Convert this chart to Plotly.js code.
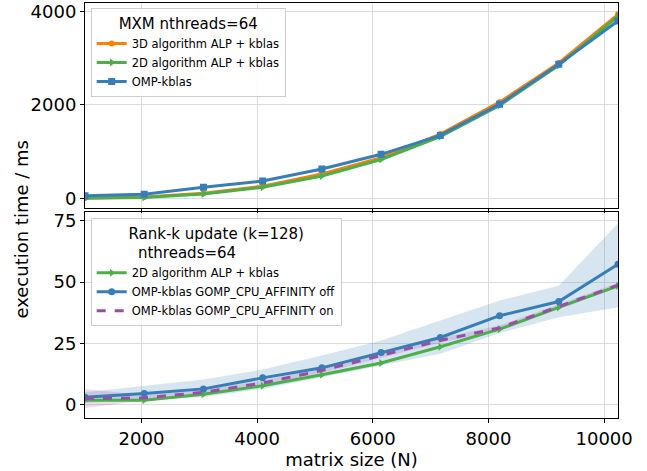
<!DOCTYPE html>
<html>
<head>
<meta charset="utf-8">
<script src="https://cdn.plot.ly/plotly-3.0.1.min.js"></script>
<style>html,body{margin:0;padding:0;background:#fff;}#chart{width:647px;height:471px;}</style>
</head>
<body>
<div id="chart"></div>
<script>
// matrix sizes
const sizes = [1024, 2048, 3072, 4096, 5120, 6144, 7168, 8192, 9216, 10240];
const xTickVals = [2000, 4000, 6000, 8000, 10000];
const xTickText = ['2000', '4000', '6000', '8000', '10000'];

// MXM (top panel), ms
const mxm3D = [8, 25, 105, 260, 520, 865, 1373, 2056, 2896, 3935];
const mxm2D = [2, 18, 90, 235, 478, 830, 1316, 1985, 2846, 3893];
const mxmOMP = [55, 85, 235, 370, 625, 940, 1345, 2013, 2868, 3793];

// Rank-k update (bottom panel), ms
const rk2D = [1.8, 1.8, 4.2, 7.7, 12.2, 17.0, 23.6, 30.8, 39.7, 48.5];
const rkOff = [3.0, 4.5, 6.4, 10.9, 15.0, 21.3, 27.4, 36.3, 42.1, 57.3];
const rkOffLo = [0.7, 2.0, 3.1, 6.4, 11.3, 15.9, 20.8, 29.2, 35.7, 39.8];
const rkOffHi = [5.0, 7.7, 10.2, 14.3, 20.0, 26.2, 34.2, 42.5, 48.5, 74.1];
const rkOn = [2.4, 2.7, 5.0, 8.8, 13.9, 20.0, 26.2, 31.3, 40.1, 48.8];
const rkOnLo = [-1.4, 1.6, 4.0, 7.8, 12.9, 19.0, 25.2, 30.3, 39.1, 47.8];
const rkOnHi = [6.4, 3.8, 6.0, 9.8, 14.9, 21.0, 27.2, 32.3, 41.1, 49.8];

const cOrange = '#ff7f00', cGreen = '#4daf4a', cBlue = '#377eb8', cPurple = '#984ea3';
const LW = 3;

const traces = [
  // top panel
  {x: sizes, y: mxm3D, xaxis: 'x2', yaxis: 'y2', mode: 'lines+markers', name: '3D algorithm ALP + kblas',
   line: {color: cOrange, width: LW}, marker: {symbol: 'circle', size: 6, color: cOrange}, legend: 'legend'},
  {x: sizes, y: mxm2D, xaxis: 'x2', yaxis: 'y2', mode: 'lines+markers', name: '2D algorithm ALP + kblas',
   line: {color: cGreen, width: LW}, marker: {symbol: 'triangle-right', size: 7, color: cGreen}, legend: 'legend'},
  {x: sizes, y: mxmOMP, xaxis: 'x2', yaxis: 'y2', mode: 'lines+markers', name: 'OMP-kblas',
   line: {color: cBlue, width: LW}, marker: {symbol: 'square', size: 7, color: cBlue}, legend: 'legend'},

  // bottom panel bands
  {x: sizes, y: rkOffLo, xaxis: 'x', yaxis: 'y', mode: 'lines', line: {width: 0, color: 'rgba(0,0,0,0)'},
   showlegend: false, hoverinfo: 'skip'},
  {x: sizes, y: rkOffHi, xaxis: 'x', yaxis: 'y', mode: 'lines', line: {width: 0, color: 'rgba(0,0,0,0)'},
   fill: 'tonexty', fillcolor: 'rgba(55,126,184,0.2)', showlegend: false, hoverinfo: 'skip'},
  {x: sizes, y: rkOnLo, xaxis: 'x', yaxis: 'y', mode: 'lines', line: {width: 0, color: 'rgba(0,0,0,0)'},
   showlegend: false, hoverinfo: 'skip'},
  {x: sizes, y: rkOnHi, xaxis: 'x', yaxis: 'y', mode: 'lines', line: {width: 0, color: 'rgba(0,0,0,0)'},
   fill: 'tonexty', fillcolor: 'rgba(152,78,163,0.2)', showlegend: false, hoverinfo: 'skip'},

  // bottom panel lines
  {x: sizes, y: rk2D, xaxis: 'x', yaxis: 'y', mode: 'lines+markers', name: '2D algorithm ALP + kblas',
   line: {color: cGreen, width: LW}, marker: {symbol: 'triangle-right', size: 7, color: cGreen}, legend: 'legend2'},
  {x: sizes, y: rkOff, xaxis: 'x', yaxis: 'y', mode: 'lines+markers', name: 'OMP-kblas GOMP_CPU_AFFINITY off',
   line: {color: cBlue, width: LW}, marker: {symbol: 'circle', size: 7, color: cBlue}, legend: 'legend2'},
  {x: sizes, y: rkOn, xaxis: 'x', yaxis: 'y', mode: 'lines', name: 'OMP-kblas GOMP_CPU_AFFINITY on',
   line: {color: cPurple, width: LW, dash: 'dash'}, legend: 'legend2'}
];

const font = {family: 'DejaVu Sans, sans-serif', color: '#000'};
const axisCommon = {
  showline: true, linecolor: '#000', linewidth: 1, mirror: true,
  showgrid: true, gridcolor: '#dcdcdc', gridwidth: 1, zeroline: false,
  ticks: 'outside', ticklen: 4, tickcolor: '#000', tickwidth: 1,
  tickfont: {family: font.family, size: 18, color: '#000'}
};

const legendCommon = {
  bgcolor: 'rgba(255,255,255,0.85)', bordercolor: '#cccccc', borderwidth: 1,
  font: {family: font.family, size: 11.5, color: '#000'},
  xanchor: 'left', yanchor: 'top', tracegroupgap: 0, itemwidth: 30,
  traceorder: 'normal'
};

const layout = {
  width: 647, height: 471,
  margin: {l: 85, r: 29, t: 3, b: 52.5},
  paper_bgcolor: '#fff', plot_bgcolor: '#fff',
  font: font,
  showlegend: true,
  xaxis: Object.assign({}, axisCommon, {
    domain: [0, 1], anchor: 'y', range: [1024, 10240],
    tickvals: xTickVals, ticktext: xTickText,
    title: {text: 'matrix size (N)', font: {family: font.family, size: 18, color: '#000'}, standoff: 0}
  }),
  yaxis: Object.assign({}, axisCommon, {
    domain: [0, 0.4954], anchor: 'x', range: [-5.5, 78.5],
    tickvals: [0, 25, 50, 75]
  }),
  xaxis2: Object.assign({}, axisCommon, {
    domain: [0, 1], anchor: 'y2', range: [1024, 10240], matches: 'x',
    tickvals: xTickVals, ticktext: xTickText, showticklabels: false
  }),
  yaxis2: Object.assign({}, axisCommon, {
    domain: [0.5055, 1], anchor: 'x2', range: [-213, 4177],
    tickvals: [0, 2000, 4000]
  }),
  legend: Object.assign({}, legendCommon, {
    x: 0.0107, y: 0.987,
    title: {text: 'MXM nthreads=64', side: 'top center', font: {family: font.family, size: 15, color: '#000'}}
  }),
  legend2: Object.assign({}, legendCommon, {
    x: 0.0107, y: 0.4815,
    title: {text: 'Rank-k update (k=128)<br>&nbsp;&nbsp;nthreads=64', side: 'top center', font: {family: font.family, size: 15, color: '#000'}}
  }),
  annotations: [{
    text: 'execution time / ms', xref: 'paper', yref: 'paper',
    x: -0.1197, y: 0.4545, xanchor: 'center', yanchor: 'middle',
    textangle: -90, showarrow: false,
    font: {family: font.family, size: 18, color: '#000'}
  }]
};

Plotly.newPlot('chart', traces, layout, {displayModeBar: false, staticPlot: true});
</script>
</body>
</html>
